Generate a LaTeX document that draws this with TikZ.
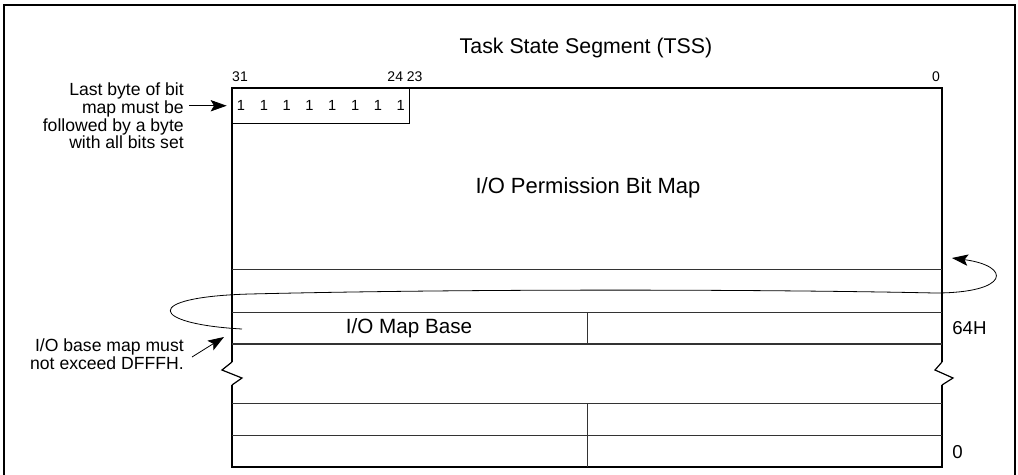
\documentclass[tikz,border=0pt]{standalone}
\usepackage{fontspec}
\setmainfont{Liberation Sans}
\usetikzlibrary{arrows.meta,positioning,calc}

\begin{document}
\begin{tikzpicture}[
    x=0.75pt,
    y=-0.75pt,
    frame/.style={
        line width=1.5pt,
        line join=miter,
    },
    rowline/.style={
        line width=0.6pt,
        color=black!80,
    },
    zig/.style={
        line width=0.9pt,
    },
    biglabel/.style={
        font=\fontsize{15.5}{18}\selectfont,
        inner sep=0pt,
    },
    bitnum/.style={
        font=\fontsize{10.5}{12}\selectfont,
        inner sep=0pt,
    },
    offset/.style={
        font=\fontsize{14}{16}\selectfont,
        inner sep=0pt,
        anchor=west,
    },
    note/.style={
        font=\fontsize{13.2}{12}\selectfont,
        align=right,
        inner sep=0pt,
        anchor=east,
    },
    pointer/.style={
        -{Stealth[length=12pt,width=8.5pt,inset=2.5pt]},
        line width=0.6pt,
    },
]
\useasboundingbox (0,0) rectangle (1018,475);
\draw[frame] (4,480) |- (1015,5) -- (1015,480);

% heading and bit numbers
\node[biglabel,font=\fontsize{16}{18}\selectfont] (title) at (586,48) {Task State Segment (TSS)};
\node[bitnum] (b31) at (240,77) {31};
\node[bitnum] (b24) at (405,77) {24 23};
\node[bitnum] (b0) at (936,77) {0};

% outline of the segment, broken on both sides
\draw[frame] (232,362) |- (942,88) -- (942,362);
\draw[frame] (232,385) |- (942,467) -- (942,385);
\draw[zig] (232,362) -- (222,370) -- (242,378) -- (232,385);
\draw[zig] (942,362) -- (935,370) -- (953,378) -- (942,385);

\node[draw,line width=0.6pt,anchor=north west,minimum width=132.75pt,
      minimum height=26pt,inner sep=0pt,font=\fontsize{11}{12}\selectfont] (ones) at (232,88)
    {1\hspace{11pt}1\hspace{11pt}1\hspace{11pt}1\hspace{11pt}1\hspace{11pt}1\hspace{11pt}1\hspace{11pt}1};

\node[biglabel,font=\fontsize{16.5}{18}\selectfont] (bitmap) at (588,188) {I/O Permission Bit Map};

% rows
\draw[rowline] (232,269) -- (942,269);
\draw[rowline] (232,312) -- (942,312);
\draw[rowline,line width=0.8pt] (232,344) -- (942,344);
\draw[rowline] (587,312) -- (587,344);
\draw[rowline] (232,403) -- (942,403);
\draw[rowline] (232,435) -- (942,435);
\draw[rowline] (587,403) -- (587,467);

\node[biglabel] (mapbase) at (409,328) {I/O Map Base};
\node[offset] (off64) at (952,328) {64H};
\node[offset] (off0) at (952,452) {0};

% notes on the left
\node[note] (lastbyte) at (184,116) {Last byte of bit\\map must be\\followed by a byte\\with all bits set};
\draw[pointer,shorten <=4pt,shorten >=4pt] (lastbyte.east |- ones.west) -- (ones.west);

\node[note,font=\fontsize{13.2}{13.5}\selectfont] (basenote) at (184,354) {I/O base map must\\not exceed DFFFH.};
\coordinate (basetip) at (224,337);
\draw[pointer] ($(basenote.east)+(8,3)$) -- (basetip);

% loop from the map base back up to the bit map
\coordinate (loopstart) at (242,329);
\coordinate (looptip) at (952,258);
\draw[pointer] (loopstart) .. controls (150,324) and (140,297) .. (250,294)
    .. controls (500,288) and (800,290) .. (935,293)
    .. controls (1010,293) and (1012,266) .. (looptip);
\end{tikzpicture}
\end{document}
